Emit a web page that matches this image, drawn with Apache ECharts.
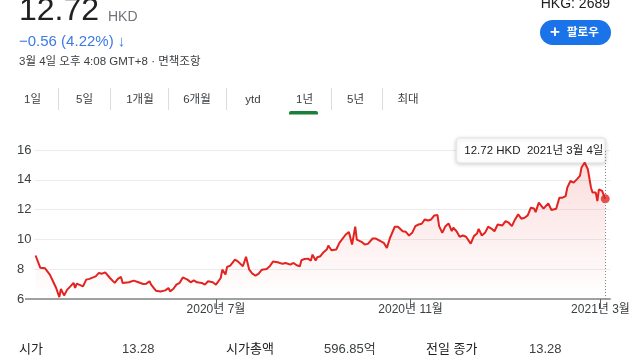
<!DOCTYPE html>
<html>
<head>
<meta charset="utf-8">
<script src="https://cdn.jsdelivr.net/npm/echarts@6/dist/echarts.min.js"></script>
<style>
html,body{margin:0;padding:0;background:#fff;}
#chart{width:640px;height:360px;}
</style>
</head>
<body>
<div id="chart"></div>
<script>
// ---- data ----
const dates = [
'2020-03-09','2020-03-12','2020-03-15','2020-03-18','2020-03-20','2020-03-22','2020-03-24','2020-03-25','2020-03-27','2020-03-29',
'2020-03-31','2020-04-02','2020-04-03','2020-04-04','2020-04-08','2020-04-10','2020-04-12','2020-04-16','2020-04-18','2020-04-20',
'2020-04-22','2020-04-25','2020-04-28','2020-04-30','2020-05-02','2020-05-03','2020-05-07','2020-05-10','2020-05-13','2020-05-16',
'2020-05-18','2020-05-20','2020-05-21','2020-05-24','2020-05-27','2020-05-30','2020-06-01','2020-06-02','2020-06-04','2020-06-06',
'2020-06-08','2020-06-10','2020-06-13','2020-06-15','2020-06-17','2020-06-19','2020-06-22','2020-06-24','2020-06-26','2020-06-29',
'2020-07-01','2020-07-04','2020-07-05','2020-07-07','2020-07-08','2020-07-10','2020-07-11','2020-07-13','2020-07-15','2020-07-16',
'2020-07-18','2020-07-20','2020-07-22','2020-07-24','2020-07-26','2020-07-28','2020-07-30','2020-08-02','2020-08-04','2020-08-06',
'2020-08-09','2020-08-12','2020-08-14','2020-08-15','2020-08-17','2020-08-19','2020-08-21','2020-08-23','2020-08-24','2020-08-26',
'2020-08-28','2020-08-30','2020-08-31','2020-09-02','2020-09-03','2020-09-05','2020-09-07','2020-09-09','2020-09-10','2020-09-12',
'2020-09-15','2020-09-17','2020-09-21','2020-09-23','2020-09-25','2020-09-27','2020-09-28','2020-10-01','2020-10-03','2020-10-05',
'2020-10-08','2020-10-10','2020-10-13','2020-10-15','2020-10-17','2020-10-19','2020-10-22','2020-10-24','2020-10-27','2020-10-29',
'2020-10-31','2020-11-02','2020-11-04','2020-11-06','2020-11-08','2020-11-10','2020-11-12','2020-11-14','2020-11-16','2020-11-18',
'2020-11-19','2020-11-21','2020-11-23','2020-11-25','2020-11-27','2020-11-28','2020-11-30','2020-12-02','2020-12-04','2020-12-06',
'2020-12-09','2020-12-11','2020-12-13','2020-12-14','2020-12-16','2020-12-18','2020-12-20','2020-12-22','2020-12-24','2020-12-26',
'2020-12-29','2020-12-31','2021-01-02','2021-01-04','2021-01-06','2021-01-08','2021-01-10','2021-01-12','2021-01-14','2021-01-16',
'2021-01-18','2021-01-19','2021-01-21','2021-01-24','2021-01-25','2021-01-27','2021-01-29','2021-01-30','2021-02-01','2021-02-03',
'2021-02-05','2021-02-07','2021-02-08','2021-02-10','2021-02-12','2021-02-14','2021-02-16','2021-02-17','2021-02-19','2021-02-20',
'2021-02-21','2021-02-23','2021-02-24','2021-02-26','2021-02-27','2021-02-28','2021-03-02','2021-03-03','2021-03-04'
];
const prices = [
8.92,8.09,8.06,7.64,7.19,6.74,6.13,6.67,6.24,6.63,
6.85,7.08,6.74,7.03,6.85,7.30,7.35,7.52,7.75,7.70,
7.79,7.41,7.08,7.35,7.48,7.08,7.12,7.23,7.12,7.01,
7.03,7.19,6.96,6.56,6.51,6.58,6.74,6.51,6.67,6.96,
7.08,7.45,7.30,7.12,7.25,7.12,7.08,6.96,7.19,7.12,
6.96,7.41,7.97,7.64,8.15,8.24,8.20,8.65,8.51,8.58,
8.20,8.83,7.97,7.70,7.57,7.70,7.97,8.02,8.20,8.51,
8.47,8.36,8.42,8.31,8.31,8.42,8.26,8.20,8.60,8.69,
8.71,8.58,8.98,8.58,8.80,8.87,9.14,9.32,9.59,9.27,
9.32,9.77,10.33,10.49,9.66,10.85,9.99,9.84,9.66,9.70,
10.06,10.06,9.88,9.77,9.43,10.11,10.85,10.85,10.55,10.51,
10.26,10.44,10.89,11.00,11.05,11.34,11.27,11.34,11.61,11.63,
10.89,10.44,10.89,11.07,10.55,10.78,10.55,10.18,10.26,10.18,
9.72,10.22,10.40,10.71,10.26,10.44,10.85,10.73,10.55,11.00,
10.94,11.23,11.12,10.89,11.34,11.68,11.39,11.45,11.61,12.13,
12.08,11.83,12.47,12.06,12.19,12.42,11.97,12.01,12.06,12.80,
12.80,12.91,13.47,13.92,13.81,14.03,14.26,14.82,15.16,15.27,
14.71,13.47,13.14,13.14,12.57,13.36,13.25,13.14,12.72
];
const tickDates = ['2020-07-01','2020-11-01','2021-03-01'];
const tickLabels = ['2020년 7월','2020년 11월','2021년 3월'];
const yTicks = [6, 8, 10, 12, 14, 16];
const tabLabels = ['1일','5일','1개월','6개월','ytd','1년','5년','최대'];
const statLabels = ['시가','시가총액','전일 종가'];
const statValues = ['13.28','596.85억','13.28'];
const quote = {price:'12.72', currency:'HKD', change:'−0.56 (4.22%)', time:'3월 4일 오후 4:08 GMT+8 · 면책조항', ticker:'HKG: 2689', tipDate:'2021년 3월 4일'};
const xRange = ['2020-03-08', '2021-03-07'];

// ---- chart ----
const FONT = 'Arial, "Liberation Sans", "Noto Sans CJK KR", sans-serif';
const RED = '#e3231f';
const toTime = d => echarts.time.parse(d).getTime();
const tickTimes = tickDates.map(toTime);
const seriesData = dates.map((d, i) => [toTime(d), prices[i]]);
const last = seriesData[seriesData.length - 1];

const chart = echarts.init(document.getElementById('chart'), null, {renderer: 'canvas'});

const tabX = [32.5, 84.5, 140, 197, 253, 304.5, 355.5, 408];
const sepX = [58.5, 110.5, 168.5, 226.5, 331.5, 382.5];
const statLabelX = [19, 226, 426];
const statValueX = [122, 324, 529];

const graphics = [];
graphics.push({type:'text', x:19, y:11.5, style:{text:quote.price, font:'32px ' + FONT, fill:'#202124', verticalAlign:'middle'}});
graphics.push({type:'text', x:108, y:17, style:{text:quote.currency, font:'14px ' + FONT, fill:'#70757a', verticalAlign:'middle'}});
graphics.push({type:'text', x:19, y:42, style:{text:quote.change + ' ↓', font:'15px ' + FONT, fill:'#3d7ae6', verticalAlign:'middle'}});
graphics.push({type:'text', x:19, y:62, style:{text:quote.time, font:'11.5px ' + FONT, fill:'#3c4043', verticalAlign:'middle'}});
graphics.push({type:'text', x:610, y:4, style:{text:quote.ticker, font:'14px ' + FONT, fill:'#202124', align:'right', verticalAlign:'middle'}});
graphics.push({type:'rect', shape:{x:540, y:20, width:71, height:25, r:12.5}, style:{fill:'#1a73e8'}});
graphics.push({type:'text', x:555, y:32.5, style:{text:'+', font:'bold 17px ' + FONT, fill:'#fff', align:'center', verticalAlign:'middle'}});
graphics.push({type:'text', x:567, y:32.5, style:{text:'팔로우', font:'bold 11.5px ' + FONT, fill:'#fff', align:'left', verticalAlign:'middle'}});
tabLabels.forEach((t, i) => {
  graphics.push({type:'text', x:tabX[i], y:99.5, style:{text:t, font:'11.5px ' + FONT, fill:'#3c4043', align:'center', verticalAlign:'middle'}});
});
sepX.forEach(x => {
  graphics.push({type:'line', shape:{x1:x, y1:88, x2:x, y2:110}, style:{stroke:'#dadce0', lineWidth:1}});
});
graphics.push({type:'rect', shape:{x:289, y:111, width:29, height:3.5, r:[2,2,0,0]}, style:{fill:'#188038'}});
statLabels.forEach((t, i) => {
  graphics.push({type:'text', x:statLabelX[i], y:349, style:{text:t, font:'13px ' + FONT, fill:'#202124', align:'left', verticalAlign:'middle'}});
  graphics.push({type:'text', x:statValueX[i], y:349, style:{text:statValues[i], font:'13px ' + FONT, fill:'#3c4043', align:'left', verticalAlign:'middle'}});
});
graphics.push({type:'line', shape:{x1:25, y1:299, x2:35, y2:299}, style:{stroke:'#a0a0a0', lineWidth:2}});

chart.setOption({
  animation: false,
  grid: {left: 34, right: 30, top: 150, bottom: 61},
  xAxis: {
    type: 'value',
    min: toTime(xRange[0]),
    max: toTime(xRange[1]),
    axisLine: {show: true, onZero: false, lineStyle: {color: '#a0a0a0', width: 2}},
    axisTick: {show: true, customValues: tickTimes, length: 9, lineStyle: {color: '#5f6368', width: 1}},
    axisLabel: {
      customValues: tickTimes,
      margin: 5,
      color: '#3c4043',
      fontSize: 12,
      fontFamily: FONT,
      formatter: v => {
        const k = tickTimes.indexOf(v);
        return k >= 0 ? tickLabels[k] : '';
      }
    },
    splitLine: {show: false}
  },
  yAxis: {
    type: 'value',
    min: yTicks[0],
    max: yTicks[yTicks.length - 1],
    interval: 2,
    axisLine: {show: false},
    axisTick: {show: false},
    axisLabel: {align: 'left', margin: 17, color: '#3c4043', fontSize: 13, fontFamily: FONT},
    splitLine: {lineStyle: {color: '#ececec', width: 1}}
  },
  series: [{
    type: 'line',
    data: seriesData,
    showSymbol: false,
    lineStyle: {color: RED, width: 2},
    areaStyle: {
      origin: 'start',
      color: new echarts.graphic.LinearGradient(0, 0, 0, 1, [
        {offset: 0, color: 'rgba(227,35,31,0.22)'},
        {offset: 1, color: 'rgba(227,35,31,0)'}
      ])
    },
    markLine: {
      silent: true,
      symbol: 'none',
      label: {show: false},
      lineStyle: {color: '#80868b', type: [1, 2], width: 1},
      data: [{xAxis: last[0]}]
    },
    z: 2
  }, {
    type: 'scatter',
    data: [last],
    symbolSize: 9,
    itemStyle: {color: RED},
    z: 3
  }],
  graphic: graphics
});

// tooltip-like box anchored to the last point
const p = chart.convertToPixel({seriesIndex: 0}, last);
const boxW = 149, boxH = 25, boxTop = 138;
graphics.push({
  type: 'group', z: 100,
  children: [
    {type:'rect', shape:{x:p[0] - boxW, y:boxTop, width:boxW, height:boxH, r:3},
     style:{fill:'#fff', stroke:'#e3e3e3', lineWidth:1, shadowBlur:4, shadowColor:'rgba(0,0,0,0.18)', shadowOffsetY:1}},
    {type:'text', x:p[0] - boxW + 8, y:boxTop + boxH/2, style:{text: prices[prices.length-1].toFixed(2) + ' ' + quote.currency + '  ' + quote.tipDate, font:'11.5px ' + FONT, fill:'#202124', verticalAlign:'middle'}}
  ]
});
chart.setOption({graphic: graphics}, {replaceMerge: ['graphic']});
</script>
</body>
</html>
